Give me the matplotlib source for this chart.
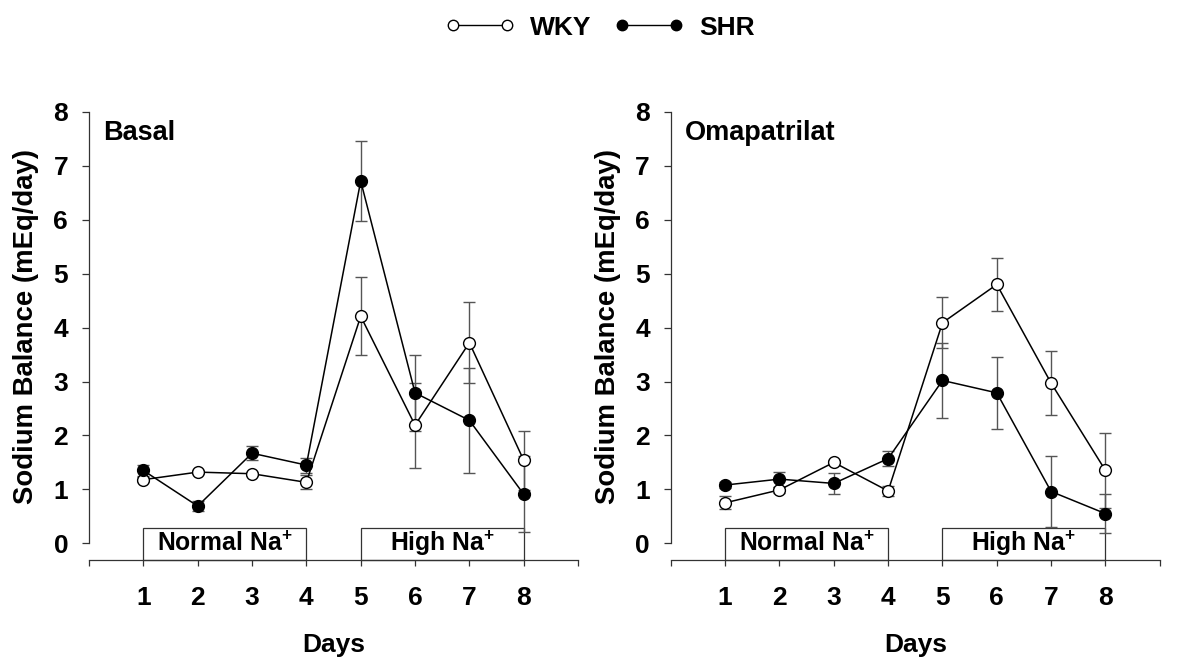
import matplotlib
matplotlib.use("Agg")
import matplotlib.pyplot as plt
from matplotlib.lines import Line2D
from matplotlib.patches import Rectangle

plt.rcParams['font.family'] = ['Liberation Sans', 'DejaVu Sans']
plt.rcParams['font.weight'] = 'bold'
plt.rcParams['mathtext.fontset'] = 'custom'
plt.rcParams['mathtext.rm'] = 'Liberation Sans:bold'
plt.rcParams['mathtext.bf'] = 'Liberation Sans:bold'

days = [1, 2, 3, 4, 5, 6, 7, 8]
xticks_all = [0, 1, 2, 3, 4, 5, 6, 7, 8, 9]
xtick_labels = ['', '1', '2', '3', '4', '5', '6', '7', '8', '']
yticks = [0, 1, 2, 3, 4, 5, 6, 7, 8]

panel_titles = ['Basal', 'Omapatrilat']

basal_wky = [1.18, 1.32, 1.29, 1.13, 4.21, 2.19, 3.72, 1.54]
basal_wky_err = [0.05, 0.04, 0.04, 0.13, 0.72, 0.79, 0.75, 0.55]
basal_shr = [1.35, 0.69, 1.67, 1.45, 6.72, 2.79, 2.28, 0.91]
basal_shr_err = [0.11, 0.09, 0.13, 0.14, 0.75, 0.71, 0.97, 0.70]

omap_wky = [0.75, 0.99, 1.50, 0.97, 4.09, 4.80, 2.97, 1.35]
omap_wky_err = [0.12, 0.05, 0.05, 0.10, 0.47, 0.50, 0.60, 0.70]
omap_shr = [1.08, 1.19, 1.11, 1.57, 3.02, 2.79, 0.96, 0.55]
omap_shr_err = [0.05, 0.14, 0.19, 0.14, 0.69, 0.67, 0.65, 0.36]

box_labels = [r'Normal Na$^{+}$', r'High Na$^{+}$']
box_spans = [(1, 4), (5, 8)]

fig = plt.figure(figsize=(12, 6.68), dpi=100)
ax1 = fig.add_axes([0.0742, 0.1617, 0.4075, 0.6707])
ax2 = fig.add_axes([0.559, 0.1617, 0.4075, 0.6707])

ylow = -0.31
data = [(basal_wky, basal_wky_err, basal_shr, basal_shr_err),
        (omap_wky, omap_wky_err, omap_shr, omap_shr_err)]

for ax, title, (wky, wkye, shr, shre) in zip([ax1, ax2], panel_titles, data):
    ax.errorbar(days, wky, yerr=wkye, fmt='none', ecolor='#555555',
                elinewidth=1.0, capsize=4.0, capthick=1.0, zorder=2, clip_on=False)
    ax.errorbar(days, shr, yerr=shre, fmt='none', ecolor='#555555',
                elinewidth=1.0, capsize=4.0, capthick=1.0, zorder=2, clip_on=False)
    ax.plot(days, wky, '-', color='black', lw=1.1, zorder=3)
    ax.plot(days, shr, '-', color='black', lw=1.1, zorder=3)
    ax.plot(days, wky, 'o', mfc='white', mec='black', mew=1.0, ms=8.5,
            zorder=4, clip_on=False)
    ax.plot(days, shr, 'o', mfc='black', mec='black', mew=1.0, ms=8.5,
            zorder=5, clip_on=False)

    ax.set_xlim(0, 9)
    ax.set_ylim(ylow, 8)
    for sp in ['top', 'right']:
        ax.spines[sp].set_visible(False)
    ax.spines['left'].set_bounds(0, 8)
    ax.spines['bottom'].set_bounds(0, 9)
    for sp in ['left', 'bottom']:
        ax.spines[sp].set_linewidth(0.9)
        ax.spines[sp].set_color('#333333')
    ax.set_yticks(yticks)
    ax.set_yticklabels([str(v) for v in yticks])
    ax.set_xticks(xticks_all)
    ax.set_xticklabels(xtick_labels)
    ax.tick_params(axis='y', direction='out', length=5, width=0.9, pad=10,
                   labelsize=19, color='#333333')
    ax.tick_params(axis='x', direction='out', length=4.5, width=0.9, pad=14,
                   labelsize=19, color='#333333')
    for lbl in ax.get_xticklabels() + ax.get_yticklabels():
        lbl.set_fontweight('bold')

    ax.set_ylabel('Sodium Balance (mEq/day)', fontsize=19.8, fontweight='bold')
    ax.yaxis.set_label_coords(-0.102, 0.522)
    ax.set_xlabel('Days', fontsize=19, fontweight='bold', labelpad=17)

    ax.text(0.029, 0.952, title, transform=ax.transAxes, fontsize=19.5,
            fontweight='bold', ha='left', va='center')

    for (x0, x1), lab in zip(box_spans, box_labels):
        rect = Rectangle((x0, ylow), x1 - x0, 0.285 - ylow, facecolor='white',
                         edgecolor='#333333', lw=0.9, zorder=1, clip_on=False)
        ax.add_patch(rect)
        ax.text((x0 + x1) / 2, (0.285 + ylow) / 2 + 0.01, lab, fontsize=17.8,
                fontweight='bold', ha='center', va='center', zorder=6)

handles = [Line2D([0], [0], color='black', lw=1.0, marker='o', mfc='white',
                  mec='black', ms=7.5),
           Line2D([0], [0], color='black', lw=1.0, marker='o', mfc='black',
                  mec='black', ms=7.5)]
leg = fig.legend(handles, ['WKY', 'SHR'], loc='upper center',
                 bbox_to_anchor=(0.5, 1.012), ncol=2, numpoints=2,
                 frameon=False, handlelength=2.65, columnspacing=0.85,
                 handletextpad=0.57, prop={'size': 19, 'weight': 'bold'})

fig.savefig('out.png', dpi=100)
